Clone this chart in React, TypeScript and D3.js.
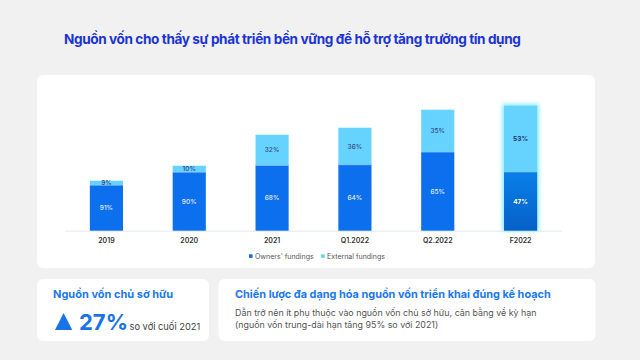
import React from 'react';
import * as d3 from 'd3';

const categories = ['2019', '2020', '2021', 'Q1.2022', 'Q2.2022', 'F2022'];
const totals = [50, 65, 96, 103, 121, 125];
const ownersPct = [91, 90, 68, 64, 65, 47];
const externalPct = [9, 10, 32, 36, 35, 53];
const legendLabels = ["Owners' fundings", 'External fundings'];

const W = 640, H = 360;
const FONT = 'Inter, "Noto Sans", sans-serif';
const OWN = '#0c6fee';
const EXT = '#66d3fe';

export default function App() {
    const x = d3.scaleBand<string>().domain(categories).range([65, 562]).paddingInner(0.6).paddingOuter(0.3);
    const y = d3.scaleLinear().domain([0, 140]).range([230.7, 90.7]);
    const bw = x.bandwidth();
    const forecast = categories.length - 1;

    return (
        <svg width={W} height={H} style={{ position: 'fixed', left: 0, top: 0, display: 'block' }} fontFamily={FONT}>
            <defs>
                <filter id="glow" x="-50%" y="-50%" width="200%" height="200%">
                    <feGaussianBlur stdDeviation="2.2" />
                </filter>
                <linearGradient id="fOwn" x1="0" y1="0" x2="0" y2="1">
                    <stop offset="0%" stopColor="#0a7fe9" />
                    <stop offset="100%" stopColor="#0660c8" />
                </linearGradient>
            </defs>
            <rect width={W} height={H} fill="#f1f1f1" />
            <text x={64} y={44} fontSize={13.6} fontWeight={700} letterSpacing={-0.4} fill="#1b34d6">
                Nguồn vốn cho thấy sự phát triển bền vững để hỗ trợ tăng trưởng tín dụng
            </text>

            {/* main chart panel */}
            <rect x={37} y={75} width={558} height={193} rx={6} fill="#fff" />
            <line x1={65} x2={562} y1={y(0) + 0.5} y2={y(0) + 0.5} stroke="#dfe9f2" strokeWidth={1} />

            {categories.map((c, i) => {
                const x0 = x(c)!;
                const own = totals[i] * ownersPct[i] / 100;
                const isF = i === forecast;
                return (
                    <g key={c}>
                        {isF && (
                            <rect x={x0 - 1.5} y={y(totals[i]) - 1.5} width={bw + 3} height={y(0) - y(totals[i]) + 1.5}
                                fill="#7ee8ff" filter="url(#glow)" />
                        )}
                        <rect x={x0} y={y(totals[i])} width={bw} height={y(own) - y(totals[i])} fill={EXT} />
                        <rect x={x0} y={y(own)} width={bw} height={y(0) - y(own)} fill={isF ? 'url(#fOwn)' : OWN} />
                        <line x1={x0} x2={x0 + bw} y1={y(own)} y2={y(own)} stroke="#8fc8f5" strokeWidth={0.6} />
                        <text x={x0 + bw / 2} y={(y(own) + y(0)) / 2} dy="0.35em" textAnchor="middle"
                            fontSize={6.5} fontWeight={isF ? 700 : 500} fill={isF ? '#ffffff' : '#e3edff'}>
                            {ownersPct[i]}%
                        </text>
                        <text x={x0 + bw / 2} y={(y(own) + y(totals[i])) / 2} dy="0.35em" textAnchor="middle"
                            fontSize={6.5} fontWeight={isF ? 700 : 500} fill={isF ? '#1b2d6b' : '#34467e'}>
                            {externalPct[i]}%
                        </text>
                        <text x={x0 + bw / 2} y={242.5} textAnchor="middle" fontSize={7} fontWeight={600} fill="#333">
                            {c}
                        </text>
                    </g>
                );
            })}

            {/* legend */}
            {legendLabels.map((l, i) => {
                const lx = i === 0 ? 249 : 321;
                return (
                    <g key={l}>
                        <rect x={lx} y={254.3} width={3.6} height={3.6} fill={i === 0 ? OWN : EXT} />
                        <text x={lx + 6} y={258.6} fontSize={7} fill="#555">{l}</text>
                    </g>
                );
            })}

            {/* left KPI box */}
            <rect x={37} y={279} width={172} height={62} rx={6} fill="#fff" />
            <text x={53} y={298} fontSize={11} fontWeight={700} fill="#1a78f0">Nguồn vốn chủ sở hữu</text>
            <path d="M55,330 L63.6,313 L72.3,330 Z" fill="#1a72e8" />
            <text x={79} y={329.5} fontSize={22} fontWeight={700} fill="#1a72e8">27%</text>
            <text x={129.5} y={329.5} fontSize={9.3} fill="#444">so với cuối 2021</text>

            {/* right strategy box */}
            <rect x={218.5} y={279} width={377} height={62} rx={6} fill="#fff" />
            <text x={235} y={298} fontSize={10.9} fontWeight={700} fill="#1a78f0">
                Chiến lược đa dạng hóa nguồn vốn triển khai đúng kế hoạch
            </text>
            <text x={235} y={315.5} fontSize={8.9} fill="#555">
                Dẫn trở nên ít phụ thuộc vào nguồn vốn chủ sở hữu, cân bằng về kỳ hạn
            </text>
            <text x={235} y={327.5} fontSize={8.9} fill="#555">
                (nguồn vốn trung-dài hạn tăng 95% so với 2021)
            </text>
        </svg>
    );
}
